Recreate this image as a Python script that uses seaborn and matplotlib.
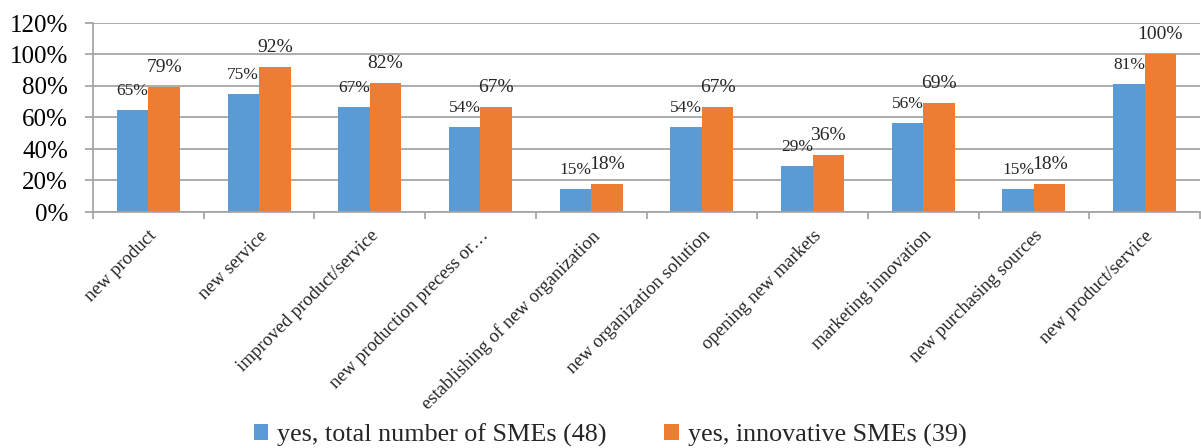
import matplotlib
matplotlib.use("Agg")
import matplotlib.pyplot as plt
import seaborn as sns
import pandas as pd
from matplotlib.patches import Patch
from matplotlib.ticker import FixedLocator

categories = ["new product", "new service", "improved product/service",
              "new production precess or\u2026", "establishing of new organization",
              "new organization solution", "opening new markets",
              "marketing innovation", "new purchasing sources", "new product/service"]
total_vals = [64.6, 75.0, 66.7, 54.2, 14.6, 54.2, 29.2, 56.3, 14.6, 81.3]
innov_vals = [79.5, 92.3, 82.1, 66.7, 17.9, 66.7, 35.9, 69.2, 17.9, 100.0]
total_labels = ["65%", "75%", "67%", "54%", "15%", "54%", "29%", "56%", "15%", "81%"]
innov_labels = ["79%", "92%", "82%", "67%", "18%", "67%", "36%", "69%", "18%", "100%"]
series = ["yes, total number of SMEs (48)", "yes, innovative SMEs (39)"]
yticks = [0, 20, 40, 60, 80, 100, 120]

blue = "#5B9BD5"
orange = "#ED7D31"
grid_c = "#A6A6A6"

df = pd.DataFrame({
    "category": categories * 2,
    "value": total_vals + innov_vals,
    "series": [series[0]] * len(categories) + [series[1]] * len(categories),
})

sns.set_theme(style="white")
plt.rcParams["font.family"] = ["Liberation Serif", "DejaVu Serif"]

fig = plt.figure(figsize=(12.01, 4.48), dpi=100)
ax = fig.add_axes([93 / 1201, 1 - 212 / 448, 1107 / 1201, (212 - 23) / 448])

sns.barplot(data=df, x="category", y="value", hue="series", order=categories,
            hue_order=series, palette=[blue, orange], width=0.57, saturation=1,
            ax=ax, legend=False, edgecolor="none", linewidth=0)

ax.set_xlim(-0.5, len(categories) - 0.5)
ax.set_ylim(0, 120)
ax.set_yticks(yticks)
ax.set_yticklabels([f"{v}%" for v in yticks], fontsize=18)
ax.yaxis.grid(True, color=grid_c, linewidth=1.3)
ax.set_axisbelow(True)
ax.set_xlabel("")
ax.set_ylabel("")

for s in ["top", "right"]:
    ax.spines[s].set_visible(False)
for s in ["left", "bottom"]:
    ax.spines[s].set_color(grid_c)
    ax.spines[s].set_linewidth(1.3)

ax.tick_params(axis="y", which="major", left=True, length=6, width=1.3,
               color=grid_c, pad=12, labelcolor="black")
ax.set_xticks(range(len(categories)))
ax.set_xticklabels(categories, rotation=45, ha="right", rotation_mode="anchor",
                   fontsize=13.5)
ax.tick_params(axis="x", which="major", length=0, pad=11)
ax.xaxis.set_minor_locator(FixedLocator([i - 0.5 for i in range(len(categories) + 1)]))
ax.tick_params(axis="x", which="minor", bottom=True, length=5, width=1.3, color=grid_c)

ax.bar_label(ax.containers[0], labels=total_labels, padding=8, fontsize=12.5)
ax.bar_label(ax.containers[1], labels=innov_labels, padding=8, fontsize=14)

handles = [Patch(facecolor=blue, edgecolor="none"), Patch(facecolor=orange, edgecolor="none")]
fig.legend(handles, series, loc="lower center", bbox_to_anchor=(0.508, -0.05),
           ncol=2, frameon=False, fontsize=18.8, handlelength=0.55, handleheight=0.55,
           handletextpad=0.35, columnspacing=2.2)

fig.savefig("out.png", dpi=100)
